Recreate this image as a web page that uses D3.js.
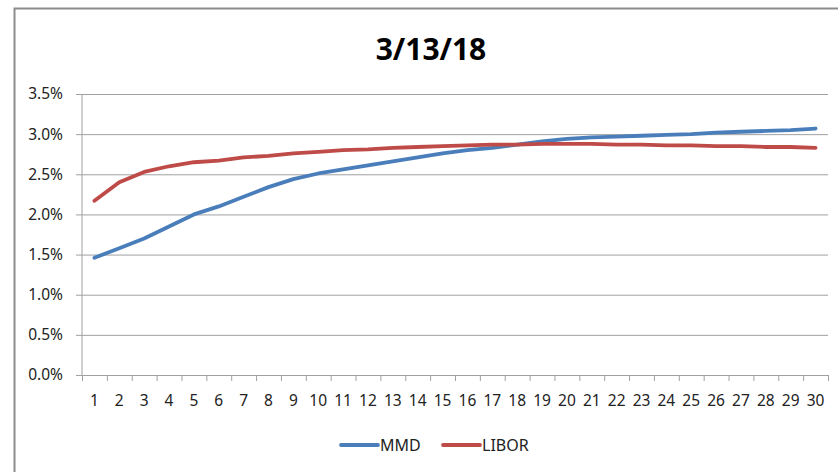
<!DOCTYPE html>
<html>
<head>
<meta charset="utf-8">
<script src="https://cdn.jsdelivr.net/npm/d3@7"></script>
<style>
  body { margin: 0; background: #fff; }
  svg { display: block; }
  .axis text { font-family: "Noto Sans", sans-serif; font-size: 15.5px; fill: #222; }
  .axis .domain, .axis line { stroke: #a0a0a0; }
</style>
</head>
<body>
<div id="chart"></div>
<script>
// data
let title = '3/13/18'
let maturities = d3.range(1, 31)
let seriesNames = ['MMD', 'LIBOR']
let seriesColors = ['#4a7ebb', '#be4b48']
let mmd = [1.46, 1.58, 1.70, 1.85, 2.00, 2.10, 2.22, 2.34, 2.44, 2.51,
  2.56, 2.61, 2.66, 2.71, 2.76, 2.80, 2.83, 2.87, 2.91, 2.94,
  2.96, 2.97, 2.98, 2.99, 3.00, 3.02, 3.03, 3.04, 3.05, 3.07]
let libor = [2.17, 2.40, 2.53, 2.60, 2.65, 2.67, 2.71, 2.73, 2.76, 2.78,
  2.80, 2.81, 2.83, 2.84, 2.85, 2.86, 2.87, 2.87, 2.88, 2.88,
  2.88, 2.87, 2.87, 2.86, 2.86, 2.85, 2.85, 2.84, 2.84, 2.83]
let yTicks = [0, 0.5, 1.0, 1.5, 2.0, 2.5, 3.0, 3.5]

let W = 838, H = 472
let margin = { top: 94, right: 10, bottom: 97, left: 82 }
let width = W - margin.left - margin.right
let height = H - margin.top - margin.bottom

let svg = d3.select('#chart').append('svg')
  .attr('width', W)
  .attr('height', H)

// outer frame (top and left edges only visible)
svg.append('path')
  .attr('d', 'M14.5,472 L14.5,8.5 L838,8.5')
  .attr('fill', 'none')
  .attr('stroke', '#8c8c8c')
  .attr('stroke-width', 2)

svg.append('text')
  .attr('x', 431)
  .attr('y', 60)
  .attr('text-anchor', 'middle')
  .style('font-family', '"Open Sans", sans-serif')
  .style('font-weight', 'bold')
  .style('font-size', '30px')
  .style('fill', '#000')
  .text(title)

let g = svg.append('g')
  .attr('transform', 'translate(' + margin.left + ',' + margin.top + ')')

// scales
let x = d3.scaleBand().domain(maturities).range([0, width])
let y = d3.scaleLinear().domain([0, 3.5]).range([height, 0])

// gridlines + y axis
g.append('g')
  .attr('class', 'y axis')
  .call(d3.axisLeft(y).tickValues(yTicks).tickSize(-width).tickPadding(19)
    .tickFormat(d => d.toFixed(1) + '%'))
  .call(g => g.selectAll('.tick line').attr('x1', -6).attr('x2', width))
  .call(g => g.select('.domain').remove())

g.append('line')
  .attr('x1', 0).attr('x2', 0)
  .attr('y1', 0).attr('y2', height)
  .attr('stroke', '#a0a0a0')

// x axis with ticks between categories
let xa = g.append('g')
  .attr('class', 'x axis')
  .attr('transform', 'translate(0,' + height + ')')
  .call(d3.axisBottom(x).tickSize(0).tickPadding(20))
xa.select('.domain').attr('d', 'M0,0.5H' + width)
xa.selectAll('.bound')
  .data(d3.range(0, maturities.length + 1))
  .enter().append('line')
  .attr('class', 'bound')
  .attr('x1', i => i * x.step() + 0.5)
  .attr('x2', i => i * x.step() + 0.5)
  .attr('y1', 0).attr('y2', 6)
  .attr('stroke', '#a0a0a0')

// lines
let line = d3.line()
  .x((d, i) => x(maturities[i]) + x.bandwidth() / 2)
  .y(d => y(d))

;[mmd, libor].forEach((s, i) => {
  g.append('path')
    .datum(s)
    .attr('fill', 'none')
    .attr('stroke', seriesColors[i])
    .attr('stroke-width', 3.8)
    .attr('stroke-linejoin', 'round')
    .attr('stroke-linecap', 'round')
    .attr('d', line)
})

// legend
let legendX = [341, 443]
let legend = svg.append('g')
seriesNames.forEach((name, i) => {
  legend.append('line')
    .attr('x1', legendX[i]).attr('x2', legendX[i] + 37)
    .attr('y1', 445).attr('y2', 445)
    .attr('stroke', seriesColors[i])
    .attr('stroke-width', 3.8)
    .attr('stroke-linecap', 'round')
  legend.append('text')
    .attr('x', legendX[i] + 39)
    .attr('y', 451)
    .style('font-family', '"Noto Sans", sans-serif')
    .style('font-size', '16px')
    .style('fill', '#222')
    .text(name)
})
</script>
</body>
</html>
